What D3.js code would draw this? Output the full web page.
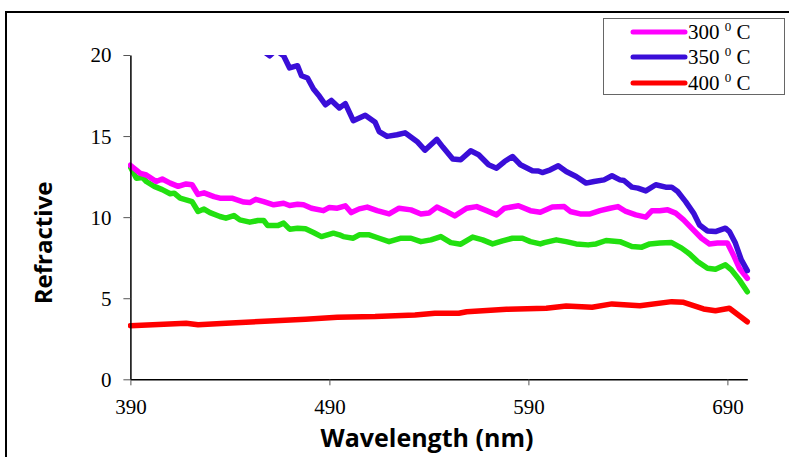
<!DOCTYPE html>
<html><head><meta charset="utf-8">
<script src="https://cdn.jsdelivr.net/npm/d3@7/dist/d3.min.js"></script>
<style>body{margin:0;background:#fff}svg{display:block}</style>
</head><body>
<script>
// ---- data ----
const xTicks = [390, 490, 590, 690];
const yTicks = [0, 5, 10, 15, 20];
const seriesNames = ["300", "350", "400"];

const wl300 = [390,395,398,403,406,410,414,418,421,424,427,432,435,441,447,450,453,457,462,467,470,474,477,481,487,490,494,498,501,505,509,514,520,525,531,536,540,544,548,553,559,564,569,574,578,585,591,596,602,608,611,616,621,626,631,635,639,644,649,652,656,660,664,668,672,677,681,685,690,693,696,700];
const val300 = [13.2,12.7,12.6,12.2,12.35,12.1,11.9,12.05,12.0,11.4,11.5,11.27,11.17,11.17,10.93,10.9,11.1,10.96,10.76,10.86,10.72,10.8,10.76,10.55,10.4,10.6,10.55,10.7,10.28,10.51,10.62,10.4,10.2,10.55,10.45,10.19,10.25,10.62,10.4,10.08,10.55,10.65,10.4,10.14,10.55,10.7,10.4,10.3,10.62,10.65,10.35,10.2,10.2,10.4,10.55,10.65,10.35,10.14,10.0,10.39,10.39,10.45,10.25,9.83,9.32,8.7,8.35,8.4,8.4,7.67,6.85,6.23];

const wl350 = [390,410,430,445,455,460,463,467,470,474,476,479,482,485,488,491,495,498,502,508,513,515,519,524,528,534,538,544,547,552,556,561,565,570,574,578,582,586,592,595,597,601,605,609,614,619,623,628,632,636,638,642,645,649,654,659,662,665,669,673,676,680,684,689,691,694,697,700];
const val350 = [27.5,25.5,23.2,21.5,20.4,19.95,20.3,19.95,19.2,19.34,18.72,18.58,17.9,17.45,16.93,17.2,16.73,17.0,15.95,16.28,15.85,15.28,14.98,15.08,15.2,14.67,14.13,14.8,14.32,13.58,13.54,14.09,13.85,13.23,13.02,13.43,13.74,13.23,12.86,12.85,12.75,12.92,13.17,12.82,12.51,12.1,12.2,12.3,12.55,12.3,12.26,11.85,11.79,11.62,12.0,11.85,11.85,11.58,10.96,10.25,9.52,9.15,9.11,9.32,9.11,8.4,7.36,6.7];

const wlG = [390,393,396,398,402,406,410,412,415,418,421,424,427,430,435,438,442,445,450,454,457,459,464,467,470,474,478,482,486,492,495,497,502,505,510,515,520,526,531,536,541,546,551,556,562,567,572,577,582,587,591,596,598,604,609,614,620,624,629,636,642,647,651,656,662,667,671,675,680,684,689,692,696,700];
const valG = [13.1,12.4,12.45,12.2,11.9,11.7,11.44,11.48,11.17,11.07,10.96,10.35,10.5,10.28,10.04,9.94,10.1,9.83,9.69,9.79,9.79,9.48,9.48,9.63,9.26,9.32,9.28,9.05,8.8,9.01,8.91,8.8,8.7,8.91,8.91,8.7,8.49,8.7,8.7,8.49,8.6,8.8,8.43,8.33,8.77,8.6,8.35,8.54,8.7,8.7,8.49,8.35,8.43,8.6,8.49,8.35,8.29,8.35,8.56,8.49,8.19,8.15,8.35,8.4,8.43,8.09,7.73,7.26,6.85,6.79,7.06,6.75,6.13,5.4];

const wl400 = [390,418,424,438,460,478,494,513,533,543,555,559,579,599,609,622,632,646,662,668,678,684,691,700];
const val400 = [3.31,3.46,3.37,3.46,3.6,3.7,3.83,3.87,3.97,4.07,4.07,4.17,4.32,4.38,4.52,4.44,4.65,4.54,4.79,4.75,4.34,4.23,4.38,3.55];

const colors = {"300":"#ff00ff","350":"#3a0ed8","G":"#22e010","400":"#ff0000"};

// ---- chart ----
const W = 789, H = 457;
const svg = d3.select("body").append("svg").attr("width", W).attr("height", H);

// outer frame
svg.append("rect").attr("x", 6).attr("y", 12).attr("width", W + 20).attr("height", H + 20)
  .attr("fill", "#fff").attr("stroke", "#000").attr("stroke-width", 2);

const x = d3.scaleLinear().domain([390, 700]).range([130.4, 747.3]);
const y = d3.scaleLinear().domain([0, 20]).range([379.3, 55]);

svg.append("defs").append("clipPath").attr("id", "plotclip")
  .append("rect").attr("x", 128).attr("y", 55).attr("width", 640).attr("height", 340);

const line = d3.line().x(d => x(d[0])).y(d => y(d[1]));
const series = [
  {key: "400", wl: wl400, v: val400},
  {key: "G", wl: wlG, v: valG},
  {key: "300", wl: wl300, v: val300},
  {key: "350", wl: wl350, v: val350}
];
const g = svg.append("g").attr("clip-path", "url(#plotclip)");
series.forEach(s => {
  g.append("path").datum(s.wl.map((w, i) => [w, s.v[i]]))
    .attr("d", line).attr("fill", "none").attr("stroke", colors[s.key])
    .attr("stroke-width", 5.5).attr("stroke-linejoin", "round").attr("stroke-linecap", "round");
});

// axes
const xAxis = svg.append("g").attr("transform", `translate(0,${y(0)})`)
  .call(d3.axisBottom(x).tickValues(xTicks).tickSize(6).tickSizeOuter(0).tickPadding(10));
const yAxis = svg.append("g").attr("transform", `translate(${x(390)},0)`)
  .call(d3.axisLeft(y).tickValues(yTicks).tickSize(7).tickSizeOuter(0).tickPadding(12));
[xAxis, yAxis].forEach(a => {
  a.select(".domain").attr("stroke", "#000").attr("stroke-width", 1.5);
  a.selectAll(".tick line").attr("stroke", "#555").attr("stroke-width", 1);
  a.selectAll(".tick text").attr("font-family", "Liberation Serif, serif").attr("font-size", 21).attr("fill", "#000");
});
xAxis.selectAll(".tick text").attr("dy", "0.9em");
yAxis.selectAll(".tick text").attr("dy", "0.33em");

// axis titles
svg.append("text").attr("x", 427).attr("y", 447).attr("text-anchor", "middle")
  .attr("font-family", "Open Sans, sans-serif").attr("font-weight", "bold").attr("font-size", 25)
  .text("Wavelength (nm)");
svg.append("text").attr("transform", "translate(52,243) rotate(-90)").attr("text-anchor", "middle")
  .attr("font-family", "Open Sans, sans-serif").attr("font-weight", "bold").attr("font-size", 24)
  .text("Refractive");

// legend
const lg = svg.append("g");
lg.append("rect").attr("x", 603.5).attr("y", 18.5).attr("width", 181).attr("height", 76)
  .attr("fill", "#fff").attr("stroke", "#666").attr("stroke-width", 1);
const legendRows = [
  {key: "300", label: "300", yy: 32},
  {key: "350", label: "350", yy: 57},
  {key: "400", label: "400", yy: 83}
];
legendRows.forEach(r => {
  lg.append("line").attr("x1", 633).attr("x2", 685).attr("y1", r.yy).attr("y2", r.yy)
    .attr("stroke", colors[r.key]).attr("stroke-width", 5).attr("stroke-linecap", "round");
  const t = lg.append("text").attr("x", 688).attr("y", r.yy + 7)
    .attr("font-family", "Liberation Serif, serif").attr("font-size", 21).attr("fill", "#000");
  t.append("tspan").text(r.label + " ");
  t.append("tspan").attr("font-size", 13).attr("dy", -8).text("0");
  t.append("tspan").attr("dy", 8).text(" C");
});
</script>
</body></html>
